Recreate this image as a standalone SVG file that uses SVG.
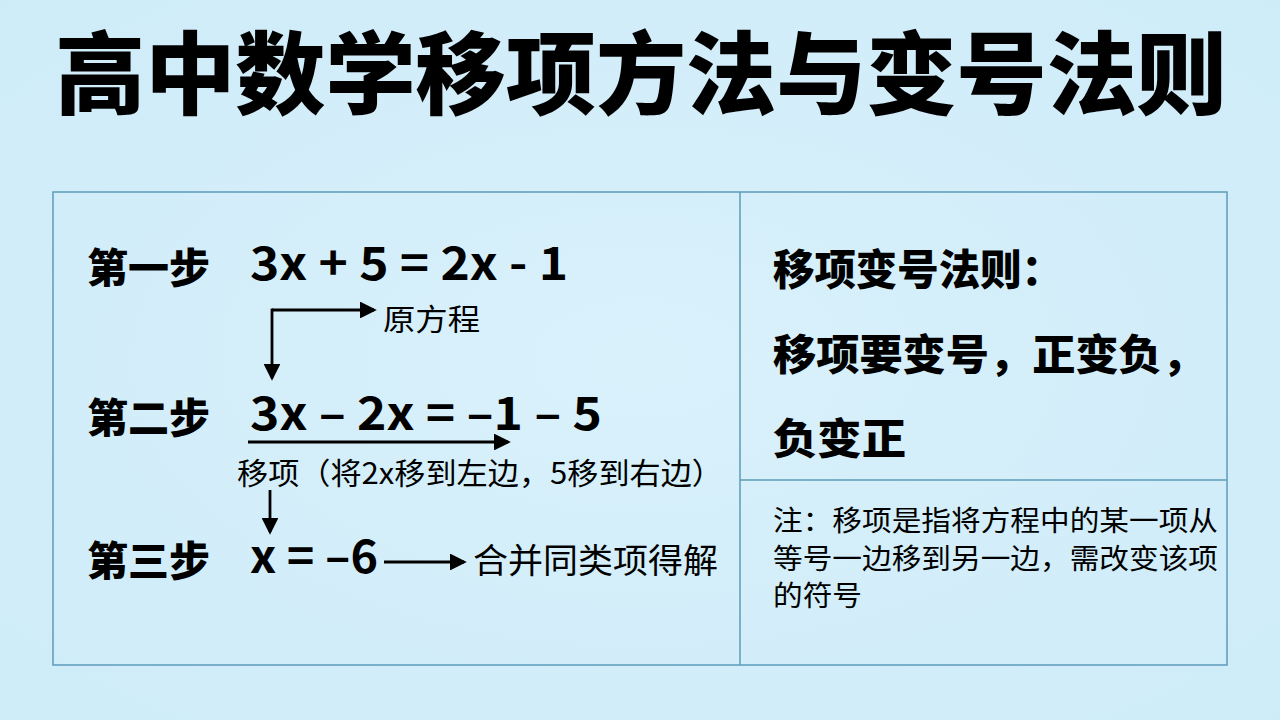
<svg xmlns="http://www.w3.org/2000/svg" width="1280" height="720" viewBox="0 0 1280 720">
<defs>
<radialGradient id="bg" cx="50%" cy="50%" r="75%">
<stop offset="0" stop-color="#d9f1fb"/>
<stop offset="1" stop-color="#cdebf8"/>
</radialGradient>
<marker id="ah" markerWidth="6" markerHeight="6" refX="5" refY="3" orient="auto" markerUnits="strokeWidth">
<path d="M0,0 L6,3 L0,6 Z" fill="#000"/>
</marker>
<style>
.t{font-family:"Noto Sans CJK SC","Liberation Sans",sans-serif;fill:#000}
.b{font-weight:700}
.k{font-weight:900}
.c{fill:none;stroke:#000;stroke-width:2.8;marker-end:url(#ah)}
.frame{fill:none;stroke:#5d9bb9;stroke-width:1.5}
</style>
</defs>
<rect width="1280" height="720" fill="url(#bg)"/>
<g id="title">
<text class="t k" x="641" y="107" font-size="90" text-anchor="middle" textLength="1172" lengthAdjust="spacingAndGlyphs">高中数学移项方法与变号法则</text>
</g>
<g id="frame">
<rect class="frame" x="53" y="192" width="1174" height="473"/>
<line class="frame" x1="740" y1="192" x2="740" y2="665"/>
<line class="frame" x1="740" y1="480" x2="1227" y2="480"/>
</g>
<g id="step1">
<text class="t k" x="87" y="283" font-size="41" textLength="123" lengthAdjust="spacingAndGlyphs">第一步</text>
<text class="t b" x="250" y="280" font-size="46" textLength="318" lengthAdjust="spacingAndGlyphs">3x + 5 = 2x - 1</text>
</g>
<g id="label1">
<text class="t" x="383" y="330" font-size="30" textLength="97" lengthAdjust="spacingAndGlyphs">原方程</text>
</g>
<g id="step2">
<text class="t k" x="87" y="433" font-size="41" textLength="123" lengthAdjust="spacingAndGlyphs">第二步</text>
<text class="t b" x="250" y="430" font-size="46" textLength="352" lengthAdjust="spacingAndGlyphs">3x – 2x = –1 – 5</text>
</g>
<g id="label2">
<text class="t" x="237" y="484" font-size="30" textLength="486" lengthAdjust="spacingAndGlyphs">移项（将2x移到左边，5移到右边）</text>
</g>
<g id="step3">
<text class="t k" x="87" y="576" font-size="41" textLength="123" lengthAdjust="spacingAndGlyphs">第三步</text>
<text class="t b" x="250" y="573" font-size="46" textLength="128" lengthAdjust="spacingAndGlyphs">x = –6</text>
</g>
<g id="label3">
<text class="t" x="473" y="573" font-size="34" textLength="245" lengthAdjust="spacingAndGlyphs">合并同类项得解</text>
</g>
<g id="rule">
<text class="t k" x="773" y="285" font-size="42" textLength="290" lengthAdjust="spacingAndGlyphs">移项变号法则：</text>
<text class="t k" x="773" y="370" font-size="42" textLength="432" lengthAdjust="spacingAndGlyphs">移项要变号，正变负，</text>
<text class="t k" x="773" y="454" font-size="42" textLength="133" lengthAdjust="spacingAndGlyphs">负变正</text>
</g>
<g id="note">
<text class="t" x="773" y="531" font-size="28" textLength="445" lengthAdjust="spacingAndGlyphs">注：移项是指将方程中的某一项从</text>
<text class="t" x="773" y="569" font-size="28" textLength="445" lengthAdjust="spacingAndGlyphs">等号一边移到另一边，需改变该项</text>
<text class="t" x="773" y="606" font-size="28" textLength="89" lengthAdjust="spacingAndGlyphs">的符号</text>
</g>
<g id="connectors">
<path class="c" d="M272,310 H374"/>
<path class="c" d="M272,308.6 V378"/>
<path class="c" d="M248,442 H508"/>
<path class="c" d="M270,490 V532"/>
<path class="c" d="M384,562 H464"/>
</g>
</svg>
